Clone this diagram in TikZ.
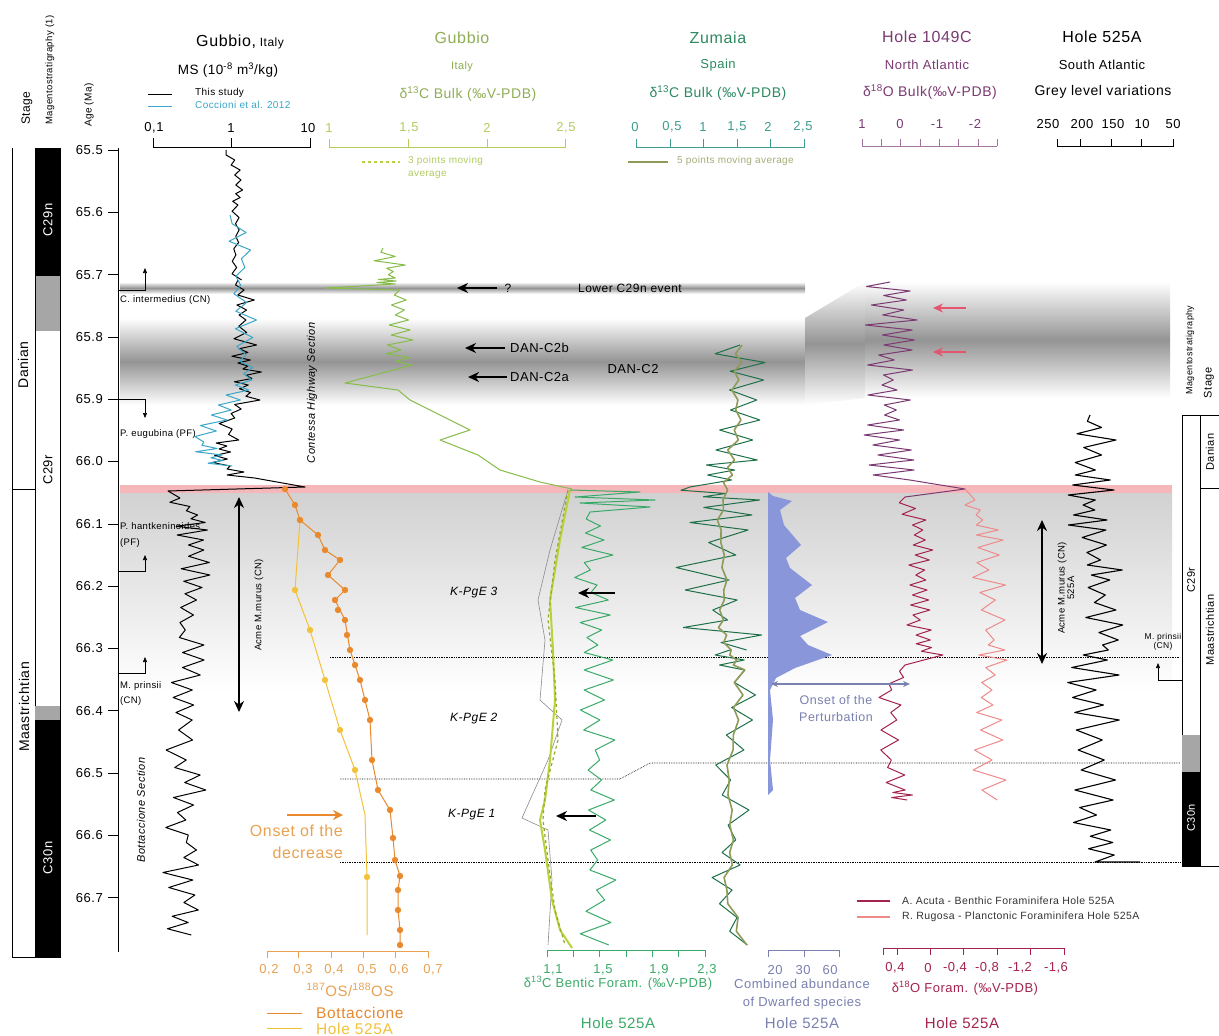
\documentclass[tikz,border=0pt]{standalone}
\usepackage{fontspec}
\setmainfont{Liberation Sans}[LetterSpace=4]
\usetikzlibrary{arrows.meta}
\definecolor{cyanc}{HTML}{3AA7C9}
\definecolor{gubg}{HTML}{86BC48}
\definecolor{gubt}{HTML}{8FAE55}
\definecolor{gubax}{HTML}{B2CC62}
\definecolor{zumt}{HTML}{2C8A62}
\definecolor{zumax}{HTML}{3E9C8E}
\definecolor{zumc}{HTML}{1E7048}
\definecolor{olivec}{HTML}{8E9A58}
\definecolor{purp}{HTML}{7B3A72}
\definecolor{osor}{HTML}{E8892E}
\definecolor{osax}{HTML}{E8A252}
\definecolor{osye}{HTML}{F2C23A}
\definecolor{bentg}{HTML}{3AAA68}
\definecolor{yg}{HTML}{B8D33A}
\definecolor{dwarf}{HTML}{8A96DA}
\definecolor{dwarft}{HTML}{7A80B0}
\definecolor{crim}{HTML}{A3234E}
\definecolor{pinkc}{HTML}{EE8A8A}
\definecolor{pinkline}{HTML}{F5B7BA}
\definecolor{redarr}{HTML}{E5566E}
\newcommand\myfs[1]{\fontsize{#1}{#1}\selectfont}
% jagged data curve: amplitude, start x, start y, list of trend points x/y
\newcommand\jag[4]{(#2,#3) \foreach \jx/\jy [remember=\jx as \jpx (initially #2), remember=\jy as \jpy (initially #3)] in {#4} {\foreach \jt [count=\jk] in {0.25,0.5,0.75,1} { -- ({\jpx+(\jx-\jpx)*\jt+cos(180*\jk)*#1*(0.12+0.88*(frac(abs(sin(37.1*\jk+3.3*\jpy+2.7*\jpx+3.1*#1))*9137.3))^1.4)},{\jpy+(\jy-\jpy)*\jt}) }}}
\begin{document}
\begin{tikzpicture}[x=1pt,y=-1pt,
  txt/.style={inner sep=0pt,font=\myfs{13}},
  small/.style={inner sep=0pt,font=\myfs{9.5}},
  ttl/.style={inner sep=0pt,font=\myfs{16}},
  sub/.style={inner sep=0pt,font=\myfs{13}},
  curve/.style={line width=1pt,line join=round},
  bigarrow/.style={line width=2pt,-{Stealth[length=11pt,width=10pt]}},
  labarrow/.style={line width=0.6pt,-{Triangle[length=5pt,width=4pt]}},
  dots/.style={densely dotted,line width=0.7pt},
  band/.style={top color=white,bottom color=white,middle color=black!42}]
\useasboundingbox (0,0) rectangle (1219,1036);
\fill[white] (0,0) rectangle (1219,1036);

% ---------- grey bands ----------
\shade[band] (120,282) rectangle (805,294);
\shade[band] (120,318) rectangle (805,405);
\shade[band] (805,318)--(865,282)--(865,398)--(805,405)--cycle;
\shade[band] (865,282) rectangle (1170,398);
\shade[top color=black!18,middle color=black!48,bottom color=white] (120,492) rectangle (1172,692);
\fill[pinkline] (120,485) rectangle (1172,493);

% ---------- dotted lines ----------
\draw[dots] (330,657) -- (1180,657);
\draw[dots] (340,779) -- (620,779) -- (650,763) -- (1180,763);
\draw[dots] (340,862) -- (1180,862);

% ---------- left stratigraphic columns ----------
\draw[line width=0.6pt] (12,148) -- (12,957) -- (60,957);
\draw[line width=0.6pt] (12,489) -- (35,489);
\fill[black] (35,148) rectangle (60,276);
\fill[black!35] (35,276) rectangle (60,331);
\draw[line width=0.6pt] (35,148) rectangle (60,957);
\fill[black!35] (35,706) rectangle (60,720);
\fill[black] (35,720) rectangle (60,957);
\node[txt,rotate=90,font=\myfs{12}] (hStage) at (27,108) {Stage};
\node[txt,rotate=90,font=\myfs{9.5}] (hMag) at (50,70) {Magentostratigraphy (1)};
\node[txt,rotate=90,font=\myfs{10}] (hAge) at (89,105) {Age (Ma)};
\node[txt,rotate=90,font=\myfs{14}] (sDan) at (23,365) {Danian};
\node[txt,rotate=90,font=\myfs{14}] (sMaa) at (24,707) {Maastrichtian};
\node[txt,rotate=90,font=\myfs{13},white] (mC29n) at (48,220) {C29n};
\node[txt,rotate=90,font=\myfs{13}] (mC29r) at (48,470) {C29r};
\node[txt,rotate=90,font=\myfs{13},white] (mC30n) at (48,858) {C30n};

% ---------- age axis ----------
\draw[line width=0.7pt] (118,148) -- (118,952);
\foreach \a/\l in {0/65.5,1/65.6,2/65.7,3/65.8,4/65.9,5/66.0,6/66.1,7/66.2,8/66.3,9/66.4,10/66.5,11/66.6,12/66.7}{
  \draw[line width=0.6pt] (108,150+62.3*\a) -- (118,150+62.3*\a);
  \node[txt,anchor=east] (age\a) at (103,150+62.3*\a) {\l};
}

% ---------- right stratigraphic columns ----------
\draw[line width=0.6pt] (1182,415) rectangle (1200,866);
\draw[line width=0.6pt] (1200,415) rectangle (1219,866);
\draw[line width=0.6pt] (1200,488) -- (1219,488);
\fill[black!35] (1182,735) rectangle (1200,772);
\fill[black] (1182,772) rectangle (1200,866);
\node[txt,rotate=90,font=\myfs{9}] (rMag) at (1190,350) {Magentostratigraphy};
\node[txt,rotate=90,font=\myfs{11}] (rStage) at (1209,383) {Stage};
\node[txt,rotate=90,font=\myfs{11}] (rDan) at (1210,452) {Danian};
\node[txt,rotate=90,font=\myfs{11}] (rMaa) at (1210,630) {Maastrichtian};
\node[txt,rotate=90,font=\myfs{11}] (rC29r) at (1191,580) {C29r};
\node[txt,rotate=90,font=\myfs{11},white] (rC30n) at (1191,818) {C30n};
\node[small,align=center,font=\myfs{8.5}] (rPrin) at (1163,642) {M. prinsii\\(CN)};
\coordinate (rp1) at (1182,680);
\draw[labarrow] (rp1) -- (1158,680) -- (1158,663);

% ---------- column headers ----------
\node[ttl] (tGubMS) at (240,42) {Gubbio,\myfs{12} Italy};
\node[sub,font=\myfs{13.5}] (uMS) at (228,70) {MS (10\textsuperscript{-8} m\textsuperscript{3}/kg)};
\draw[line width=1pt] (148,94) -- (172,94);
\node[small,anchor=west,font=\myfs{10}] (lgThis) at (195,93) {This study};
\draw[cyanc,line width=1pt] (148,106) -- (172,106);
\node[small,anchor=west,font=\myfs{10},cyanc] (lgCoc) at (195,105) {Coccioni et al. 2012};
\draw[line width=0.6pt] (153,138) -- (153,147) -- (310,147) -- (310,138) (231,138) -- (231,147);
\node[txt] (xMS1) at (154,128) {0,1};
\node[txt] (xMS2) at (231,128) {1};
\node[txt] (xMS3) at (308,128) {10};

\node[ttl,gubt] (tGub) at (462,38) {Gubbio};
\node[sub,gubt,font=\myfs{11}] (uGub) at (462,67) {Italy};
\node[sub,gubt,font=\myfs{14}] (vGub) at (468,94) {δ\textsuperscript{13}C Bulk (‰V-PDB)};
\draw[gubax,line width=0.6pt] (329,139) -- (329,147) -- (565,147) -- (565,139) (408,139) -- (408,147) (487,139) -- (487,147);
\foreach \x/\l in {329/1,409/{1,5},487/2,566/{2,5}} \node[txt,gubax] at (\x,128) {\l};
\draw[yg,line width=1.6pt,dashed] (362,162) -- (400,162);
\node[small,gubax,anchor=west,font=\myfs{10}] (lg3a) at (408,161) {3 points moving};
\node[small,gubax,anchor=west,font=\myfs{10}] (lg3b) at (408,175) {average};

\node[ttl,zumt] (tZum) at (718,38) {Zumaia};
\node[sub,zumt] (uZum) at (718,65) {Spain};
\node[sub,zumt,font=\myfs{14}] (vZum) at (718,93) {δ\textsuperscript{13}C Bulk (‰V-PDB)};
\draw[zumax,line width=0.6pt] (636,139) -- (636,147) -- (804,147) -- (804,139);
\foreach \x in {670,703,737,770} \draw[zumax,line width=0.6pt] (\x,139) -- (\x,147);
\foreach \x/\l in {635/0,672/{0,5},703/1,737/{1,5},768/2,803/{2,5}} \node[txt,zumax] at (\x,127) {\l};
\draw[olivec,line width=1.6pt] (628,162) -- (668,162);
\node[small,olivec!80,anchor=west,font=\myfs{10}] (lg5) at (677,161) {5 points moving average};

\node[ttl,purp] (t1049) at (927,37) {Hole 1049C};
\node[sub,purp] (u1049) at (927,65) {North Atlantic};
\node[sub,purp,font=\myfs{14}] (v1049) at (930,92) {δ\textsuperscript{18}O Bulk(‰V-PDB)};
\draw[purp!70,line width=0.6pt] (862,146) -- (997,146);
\foreach \i in {0,...,7} \draw[purp!70,line width=0.6pt] (862+19.3*\i,139) -- (862+19.3*\i,146);
\foreach \x/\l in {862/1,900/0,937/-1,975/-2} \node[txt,purp] at (\x,124) {\l};

\node[ttl] (t525) at (1102,37) {Hole 525A};
\node[sub] (u525) at (1102,65) {South Atlantic};
\node[sub,font=\myfs{14}] (v525) at (1103,92) {Grey level variations};
\draw[line width=0.6pt] (1057,139) -- (1057,146) -- (1173,146) -- (1173,139);
\foreach \x in {1080,1111,1141} \draw[line width=0.6pt] (\x,139) -- (\x,146);
\foreach \x/\l in {1048/250,1082/200,1113/150,1142/10,1173/50} \node[txt] at (\x,124) {\l};

% ---------- bottom axes ----------
\draw[osax,line width=0.6pt] (267,958) -- (267,951) -- (428,951) -- (428,958);
\foreach \x in {298,331,363,395} \draw[osax,line width=0.6pt] (\x,951) -- (\x,958);
\foreach \x/\l in {269/{0,2},303/{0,3},334/{0,4},367/{0,5},399/{0,6},433/{0,7}} \node[txt,osax] at (\x,970) {\l};
\node[txt,osax,font=\myfs{15}] (xOs) at (350,990) {\textsuperscript{187}OS/\textsuperscript{188}OS};
\draw[osor,line width=1pt] (267,1013) -- (302,1013);
\node[txt,osor,anchor=west,font=\myfs{15.5}] (lgBot) at (316,1013) {Bottaccione};
\draw[osye,line width=1pt] (267,1028) -- (302,1028);
\node[txt,osye,anchor=west,font=\myfs{15.5}] (lgH525) at (316,1029) {Hole 525A};

\draw[bentg,line width=0.6pt] (547,957) -- (547,950) -- (705,950) -- (705,957);
\foreach \i in {1,...,5} \draw[bentg,line width=0.6pt] (547+26.3*\i,950) -- (547+26.3*\i,957);
\foreach \x/\l in {553/{1,1},603/{1,5},659/{1,9},707/{2,3}} \node[txt,bentg] at (\x,970) {\l};
\node[txt,bentg] (xBent) at (618,983) {δ\textsuperscript{13}C Bentic Foram. (‰V-PDB)};
\node[txt,bentg,font=\myfs{15}] (hBent) at (618,1023) {Hole 525A};

\draw[dwarft,line width=0.6pt] (768,957) -- (768,950) -- (839,950) -- (839,957) (804,950) -- (804,957);
\foreach \x/\l in {775/20,803/30,830/60} \node[txt,dwarft] at (\x,970) {\l};
\node[txt,dwarft] (xDw1) at (802,984) {Combined abundance};
\node[txt,dwarft] (xDw2) at (802,1003) {of Dwarfed species};
\node[txt,dwarft,font=\myfs{15}] (hDw) at (802,1023) {Hole 525A};

\draw[crim,line width=0.6pt] (883,955) -- (883,948) -- (1064,948) -- (1064,955);
\foreach \x in {897,930,963,997,1030} \draw[crim,line width=0.6pt] (\x,948) -- (\x,955);
\foreach \x/\l in {895/{0,4},928/0,955/{-0,4},987/{-0,8},1020/{-1,2},1056/{-1,6}} \node[txt,crim] at (\x,968) {\l};
\node[txt,crim] (xFo) at (965,988) {δ\textsuperscript{18}O Foram. (‰V-PDB)};
\node[txt,crim,font=\myfs{15}] (hFo) at (962,1023) {Hole 525A};
\draw[crim,line width=1.2pt] (857,901) -- (890,901);
\node[small,anchor=west,font=\myfs{10.5},black!80] (lgAcu) at (902,901) {A. Acuta - Benthic Foraminifera Hole 525A};
\draw[pinkc,line width=1.2pt] (857,917) -- (890,917);
\node[small,anchor=west,font=\myfs{10.5},black!80] (lgRug) at (902,917) {R. Rugosa - Planctonic Foraminifera Hole 525A};

% ---------- curves ----------
% MS Gubbio (this study)
\draw[curve] \jag{5}{226}{150}{236/170,242/190,233/205,238/230,234/255,238/280};
\draw[curve] \jag{13}{238}{280}{245/300,240/320,248/345,240/360,250/372,240/385,250/400,228/418,232/440,218/452,225/466,245/478} -- (305,487) -- (168,491) -- (180,498);
\draw[curve] \jag{18}{180}{498}{195/515,192/530,200/550,196/575,185/600,182/630,190/660,180/690,190/720,182/760,195/790,178/820,192/850,175/880,190/910,182/935};
% Coccioni
\draw[curve,cyanc] \jag{15}{230}{215}{246/250,236/285,248/320,240/355,250/380,236/400,218/420,202/442,212/455,226/466};

% Gubbio bulk
\draw[curve,gubg] \jag{18}{383}{248}{392/265,390/278,380/284} -- (325,288) -- (400,290);
\draw[curve,gubg] \jag{18}{400}{290}{398/310,405/330,392/350,400/365} -- (345,383) -- (398,390) -- (410,400) -- (470,430) -- (440,440) -- (478,455) -- (500,470) -- (540,482) -- (572,489);

% Bentic d13C (yellow thick, dashed, grey thin)
\draw[black!45,line width=0.6pt] plot coordinates {(568,490)(550,550)(538,600)(545,640)(540,700)(562,720)(548,760)(530,800)(522,818)(548,830)(552,880)(548,945)};
\draw[yg,line width=2pt] plot coordinates {(570,490)(560,540)(550,600)(553,650)(555,700)(550,760)(545,800)(540,820)(545,850)(552,900)(560,930)(572,948)};
\draw[yg!80!black,line width=1.2pt,dashed] plot coordinates {(568,490)(555,560)(548,620)(555,680)(558,740)(545,790)(543,820)(548,860)(555,910)(565,945)};

% Bentic green Hole 525A
\draw[curve,bentg] (570,490) -- (640,492) -- (575,497) -- (655,500) -- (580,503) -- (650,507) -- (590,512) \jag{22}{590}{512}{600/540,585/570,600/600,590/630,600/660,592/700,602/740,592/780,598/820,592/860,602/900,588/945};

% Zumaia
\draw[curve,zumc] \jag{30}{740}{345}{738/380,736/420,732/460,728/480} -- (690,487) \jag{45}{690}{487}{722/500,722/530,720/580,722/620,730/650} \jag{20}{730}{650}{738/670,736/720,728/780,732/840,725/890,740/945};
\draw[olivec,line width=1.6pt,line join=round] \jag{5}{742}{345}{735/380,737/420,730/460,725/490,720/530,726/580,720/620,728/650,740/670,736/720,728/780,732/840,725/890,742/945};

% Dwarfed species
\fill[dwarf] (768,492) -- (773,496) -- (792,501) -- (780,510) -- (784,525) -- (801,545) -- (786,558) -- (790,568) -- (812,585) -- (795,598) -- (800,610) -- (828,622) -- (800,636) -- (808,645) -- (832,655) -- (795,668) -- (776,678) -- (770,690) -- (773,720) -- (770,760) -- (773,790) -- (768,795) -- cycle;

% Hole 1049C bulk
\draw[curve,purp] \jag{28}{890}{282}{895/300,892/320,890/340,888/360,890/380,892/400,888/420,892/440,890/460,888/480} -- (965,489) -- (905,497);
% A. acuta
\draw[curve,crim] \jag{16}{905}{497}{920/520,918/540,922/560,918/580,922/600,918/620,924/640,930/655} -- (905,665) \jag{12}{905}{665}{890/690,893/720,889/760,898/790,905/800};
% R. rugosa
\draw[curve,pinkc] (965,489) -- (975,500) \jag{18}{975}{500}{980/520,988/540,986/570,992/600,990/640,996/660,988/690,992/720,988/760,995/800};

% Hole 525A grey level
\draw[line width=1.1pt,line join=round] \jag{26}{1090}{415}{1092/440,1085/470,1090/490,1085/510,1095/530,1092/560,1105/580,1098/610,1108/640,1100/660,1090/690,1100/720,1095/760,1088/800,1098/830,1092/855} -- (1095,862) -- (1140,862);

% Os curves
\draw[osye,line width=1pt] plot coordinates {(300,520)(295,590)(310,630)(325,680)(340,730)(355,770)(365,815)(367,877)(367,935)};
\foreach \p in {(300,520),(295,590),(310,630),(325,680),(340,730),(355,770),(367,877)} \fill[osye] \p circle (3.2pt);
\draw[osor,line width=1pt] plot coordinates {(285,489)(295,505)(300,520)(318,535)(325,550)(340,560)(328,575)(345,590)(335,600)(345,620)(350,650)(360,680)(370,720)(372,760)(378,790)(390,810)(393,838)(395,860)(400,876)(398,890)(398,910)(400,930)(400,945)};
\foreach \p in {(285,489),(295,505),(300,520),(318,535),(325,550),(340,560),(328,575),(345,590),(335,600),(338,610),(345,620),(347,635),(350,650),(355,665),(360,680),(365,700),(370,720),(372,760),(378,790),(390,810),(393,838),(395,860),(400,876),(398,890),(398,910),(400,930),(400,945)} \fill[osor] \p circle (3.2pt);

% ---------- labels and arrows ----------
\coordinate (ci0) at (118,290);
\draw[labarrow] (ci0) -- (145,290) -- (145,268);
\node[small,anchor=west] (lCint) at (120,300) {C. intermedius (CN)};
\coordinate (pe0) at (118,399);
\draw[labarrow] (pe0) -- (145,399) -- (145,418);
\node[small,anchor=west] (lPeu) at (120,434) {P. eugubina (PF)};
\node[small,anchor=west] (lPha) at (120,526) {P. hantkeninoides};
\node[small,anchor=west] (lPha2) at (120,543) {(PF)};
\coordinate (ph0) at (118,571);
\draw[labarrow] (ph0) -- (145,571) -- (145,555);
\coordinate (mp0) at (118,673);
\draw[labarrow] (mp0) -- (145,673) -- (145,657);
\node[small,anchor=west] (lMpr) at (120,686) {M. prinsii};
\node[small,anchor=west] (lMpr2) at (120,701) {(CN)};
\node[small,rotate=90,font=\itshape\myfs{11}] (lCont) at (312,393) {Contessa Highway Section};
\node[small,rotate=90,font=\itshape\myfs{11}] (lBott) at (141,810) {Bottaccione Section};

\coordinate (am1) at (239,497);
\coordinate (am2) at (239,712);
\draw[line width=2pt,{Stealth[length=11pt,width=10pt]}-{Stealth[length=11pt,width=10pt]}] (am1) -- (am2);
\node[small,rotate=90,font=\myfs{9.5}] (lAcme) at (259,605) {Acme M.murus (CN)};

\coordinate (am3) at (1042,520);
\coordinate (am4) at (1042,664);
\draw[line width=2pt,{Stealth[length=11pt,width=10pt]}-{Stealth[length=11pt,width=10pt]}] (am3) -- (am4);
\node[small,rotate=90,align=center,font=\myfs{9.5}] (lAcme2) at (1066,588) {Acme M.murus (CN)\\525A};

\coordinate (on1) at (287,815);
\coordinate (on2) at (343,815);
\draw[osor,line width=2.4pt,-{Stealth[length=10pt,width=10pt]}] (on1) -- (on2);
\node[txt,osax,anchor=east,font=\myfs{16}] (lOn1) at (343,831) {Onset of the};
\node[txt,osax,anchor=east,font=\myfs{16}] (lOn2) at (343,853) {decrease};

\node[txt,font=\myfs{12}] (lLow) at (630,288) {Lower C29n event};
\node[txt,font=\myfs{12}] (lQ) at (508,288) {?};
\coordinate (lq0) at (497,288);
\draw[bigarrow] (lq0) -- (457,288);
\node[txt,anchor=west] (lD2b) at (510,348) {DAN-C2b};
\coordinate (d2b) at (505,348);
\draw[bigarrow] (d2b) -- (465,348);
\node[txt,anchor=west] (lD2a) at (510,377) {DAN-C2a};
\coordinate (d2a) at (507,377);
\draw[bigarrow] (d2a) -- (468,377);
\node[txt] (lD2) at (633,369) {DAN-C2};

\coordinate (ra1) at (966,308);
\draw[redarr,line width=2pt,-{Stealth[length=10pt,width=9pt]}] (ra1) -- (933,308);
\coordinate (ra2) at (966,352);
\draw[redarr,line width=2pt,-{Stealth[length=10pt,width=9pt]}] (ra2) -- (933,352);

\node[txt,anchor=west,font=\itshape\myfs{12}] (lK3) at (450,593) {K-PgE 3};
\coordinate (k3) at (615,593);
\draw[bigarrow] (k3) -- (578,593);
\node[txt,anchor=west,font=\itshape\myfs{12}] (lK2) at (450,719) {K-PgE 2};
\node[txt,anchor=west,font=\itshape\myfs{12}] (lK1) at (448,815) {K-PgE 1};
\coordinate (k1) at (596,816);
\draw[bigarrow] (k1) -- (556,816);

\coordinate (op1) at (771,684);
\coordinate (op2) at (910,684);
\draw[dwarft,line width=1.2pt,{Stealth[length=7pt,width=6pt]}-{Stealth[length=7pt,width=6pt]}] (op1) -- (op2);
\node[txt,dwarft,font=\myfs{12.5}] (lOp1) at (836,700) {Onset of the};
\node[txt,dwarft,font=\myfs{12.5}] (lOp2) at (836,717) {Perturbation};
\end{tikzpicture}
\end{document}
